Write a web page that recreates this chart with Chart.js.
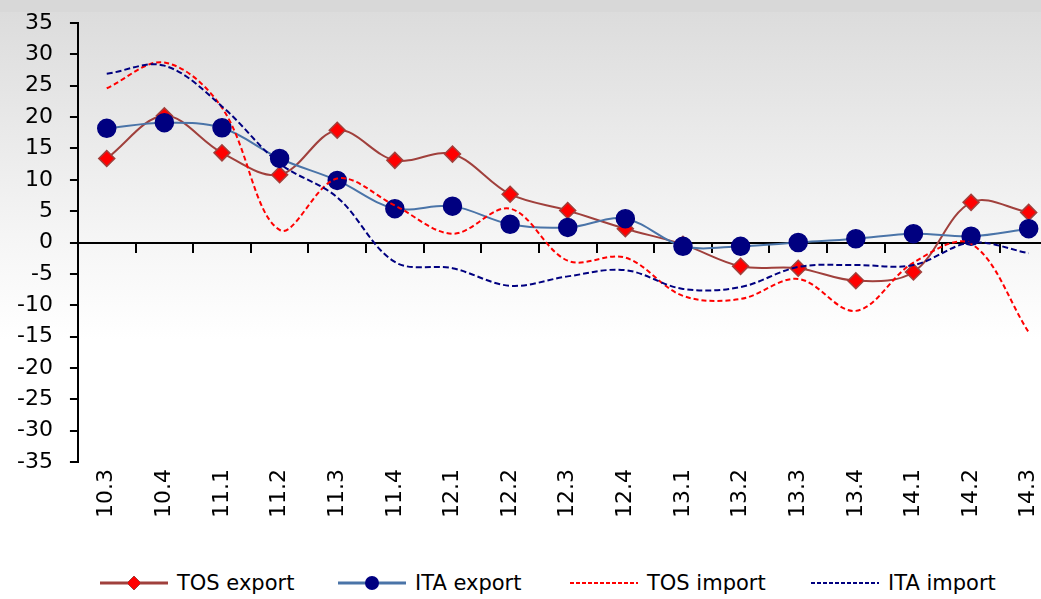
<!DOCTYPE html>
<html>
<head>
<meta charset="utf-8">
<script src="https://cdn.jsdelivr.net/npm/chart.js@4.4.1/dist/chart.umd.min.js"></script>
<style>
  html, body { margin: 0; padding: 0; width: 1041px; height: 599px; overflow: hidden; }
  body {
    background: linear-gradient(to bottom, #d8d8d8 0px, #d8d8d8 12px, #dcdcdc 12px, #f5f5f5 235px, #ffffff 340px, #ffffff 100%);
    font-family: "DejaVu Sans", sans-serif;
    position: relative;
  }
  #wrap { position: absolute; left: 0; top: 0; width: 1068px; height: 560px; }
  .lg { position: absolute; top: 571px; height: 24px; display: flex; align-items: center; font-size: 21px; color: #000; white-space: nowrap; }
  .lg canvas { margin-right: 9px; }
</style>
</head>
<body>
<div id="wrap"><canvas id="chart" width="1068" height="560"></canvas></div>
<div class="lg" style="left:100px"><canvas id="lg0" width="68" height="20"></canvas><span>TOS export</span></div>
<div class="lg" style="left:338px"><canvas id="lg1" width="68" height="20"></canvas><span>ITA export</span></div>
<div class="lg" style="left:570px"><canvas id="lg2" width="68" height="20"></canvas><span>TOS import</span></div>
<div class="lg" style="left:811px"><canvas id="lg3" width="68" height="20"></canvas><span>ITA import</span></div>
<script>
const periods = ['10.3', '10.4', '11.1', '11.2', '11.3', '11.4', '12.1', '12.2', '12.3', '12.4',
  '13.1', '13.2', '13.3', '13.4', '14.1', '14.2', '14.3'];
const tosExport = [13.4, 20.2, 14.3, 10.8, 17.9, 13.1, 14.1, 7.7, 5.1, 2.2, -0.3, -3.8, -4.1, -6.1, -4.7, 6.4, 4.8];
const itaExport = [18.2, 19.1, 18.3, 13.4, 9.9, 5.4, 5.8, 2.9, 2.4, 3.8, -0.6, -0.6, 0.0, 0.6, 1.4, 1.0, 2.2];
const tosImport = [24.6, 28.7, 21.5, 2.0, 10.2, 5.9, 1.4, 5.4, -2.9, -2.4, -8.5, -9.0, -5.8, -10.9, -3.2, -0.2, -14.3];
const itaImport = [26.9, 28.2, 21.7, 12.6, 7.2, -3.1, -4.1, -6.9, -5.4, -4.4, -7.4, -7.1, -3.9, -3.6, -3.6, 0.0, -1.7];

const font = { family: 'DejaVu Sans', size: 22 };

const series = [
  { label: 'TOS export', data: tosExport, line: '#a0403c', fill: '#ff0000', style: 'rectRot', radius: 8, dash: [], order: 4 },
  { label: 'ITA export', data: itaExport, line: '#4a74a8', fill: '#000080', style: 'circle', radius: 9, dash: [], order: 3 },
  { label: 'TOS import', data: tosImport, line: '#ff0000', fill: null, style: false, radius: 0, dash: [5, 3], order: 2 },
  { label: 'ITA import', data: itaImport, line: '#000080', fill: null, style: false, radius: 0, dash: [6, 3], order: 1 }
];

new Chart(document.getElementById('chart'), {
  type: 'line',
  data: {
    labels: periods,
    datasets: series.map(s => ({
      label: s.label,
      data: s.data,
      order: s.order,
      borderColor: s.line,
      borderWidth: 2,
      borderDash: s.dash,
      tension: 0.35,
      pointStyle: s.style,
      pointRadius: s.radius,
      pointHoverRadius: s.radius,
      pointBackgroundColor: s.fill || s.line,
      pointBorderColor: s.style === 'circle' ? s.fill : s.line,
      pointBorderWidth: 1.5
    }))
  },
  options: {
    responsive: false,
    animation: false,
    layout: { padding: { top: 23, left: 0, right: 5, bottom: 35 } },
    plugins: { legend: { display: false }, tooltip: { enabled: false } },
    scales: {
      x: {
        offset: true,
        grid: { display: false, drawTicks: false },
        border: { display: false },
        ticks: { minRotation: 90, maxRotation: 90, padding: 7, color: '#000', font }
      },
      x0: {
        type: 'category',
        position: { y: 0 },
        offset: true,
        grid: { offset: true, drawOnChartArea: false, tickLength: 9, color: '#000', lineWidth: 2 },
        border: { color: '#000', width: 2 },
        ticks: { display: false }
      },
      y: {
        min: -35,
        max: 35,
        ticks: { stepSize: 5, padding: 17, color: '#000', font },
        grid: { drawOnChartArea: false, tickLength: 8, color: '#000', lineWidth: 2 },
        border: { color: '#000', width: 2 },
        afterFit: (s) => { s.paddingTop = 0; s.paddingBottom = 0; }
      }
    }
  }
});

// legend swatches: line plus marker
series.forEach((s, i) => {
  const c = document.getElementById('lg' + i).getContext('2d');
  c.strokeStyle = s.line;
  c.lineWidth = s.dash.length ? 2 : 3;
  c.setLineDash(s.dash.length ? [4, 2] : []);
  c.beginPath();
  c.moveTo(0, 10);
  c.lineTo(68, 10);
  c.stroke();
  c.setLineDash([]);
  if (s.style === 'rectRot') {
    c.fillStyle = s.fill;
    c.strokeStyle = s.line;
    c.lineWidth = 1;
    c.beginPath();
    c.moveTo(34, 3); c.lineTo(41, 10); c.lineTo(34, 17); c.lineTo(27, 10);
    c.closePath();
    c.fill(); c.stroke();
  } else if (s.style === 'circle') {
    c.fillStyle = s.fill;
    c.beginPath();
    c.arc(34, 10, 7, 0, Math.PI * 2);
    c.fill();
  }
});
</script>
</body>
</html>
